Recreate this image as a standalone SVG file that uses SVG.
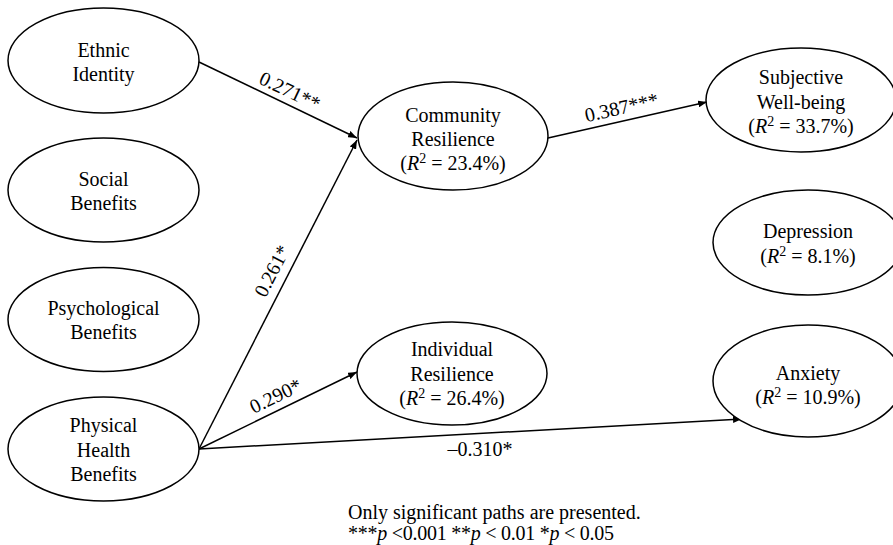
<svg xmlns="http://www.w3.org/2000/svg" width="893" height="545" viewBox="0 0 893 545">
<style>
  .node ellipse { fill: #fff; stroke: #000; stroke-width: 1.5; }
  .node text { font-family: "Liberation Serif", "Times New Roman", serif; font-size: 20px; fill: #000; text-anchor: middle; }
  .edge { stroke: #000; stroke-width: 1.5; fill: none; marker-end: url(#arrow); }
  .lbl { font-family: "Liberation Serif", "Times New Roman", serif; font-size: 20px; fill: #000; text-anchor: middle; }
  .note { font-family: "Liberation Serif", "Times New Roman", serif; font-size: 20px; fill: #000; }
  .it { font-style: italic; }
</style>
<defs>
  <marker id="arrow" viewBox="0 0 10 10" refX="10" refY="5" markerWidth="9" markerHeight="7" markerUnits="userSpaceOnUse" orient="auto" preserveAspectRatio="none">
    <path d="M0,0 L10,5 L0,10 z" fill="#000"/>
  </marker>
</defs>
<rect width="893" height="545" fill="#fff"/>

<g id="connectors">
  <line class="edge" x1="199" y1="62" x2="357" y2="138"/>
  <line class="edge" x1="199" y1="449" x2="357" y2="140"/>
  <line class="edge" x1="199" y1="449" x2="357" y2="372"/>
  <line class="edge" x1="199" y1="449" x2="742" y2="419"/>
  <line class="edge" x1="548" y1="138" x2="707" y2="102"/>
  <text class="lbl" transform="translate(287,97) rotate(25.5)">0.271**</text>
  <text class="lbl" transform="translate(278,274) rotate(-62.8)">0.261*</text>
  <text class="lbl" transform="translate(278.5,402) rotate(-26)">0.290*</text>
  <text class="lbl" transform="translate(623,114) rotate(-12.7)">0.387***</text>
  <text class="lbl" x="480" y="456">–0.310*</text>
</g>

<g id="ethnic-identity" class="node">
  <ellipse cx="103.5" cy="60.5" rx="95.5" ry="52.5"/>
  <text x="103.5" y="57">Ethnic</text>
  <text x="103.5" y="81">Identity</text>
</g>
<g id="social-benefits" class="node">
  <ellipse cx="103.5" cy="190" rx="95.5" ry="52"/>
  <text x="103.5" y="186">Social</text>
  <text x="103.5" y="210">Benefits</text>
</g>
<g id="psychological-benefits" class="node">
  <ellipse cx="103.5" cy="319.5" rx="95.5" ry="52"/>
  <text x="103.5" y="315">Psychological</text>
  <text x="103.5" y="339">Benefits</text>
</g>
<g id="physical-health-benefits" class="node">
  <ellipse cx="103.5" cy="449" rx="95.5" ry="52"/>
  <text x="103.5" y="432">Physical</text>
  <text x="103.5" y="456.5">Health</text>
  <text x="103.5" y="481">Benefits</text>
</g>
<g id="community-resilience" class="node">
  <ellipse cx="453" cy="136" rx="95" ry="54"/>
  <text x="453" y="122">Community</text>
  <text x="453" y="146">Resilience</text>
  <text x="453" y="170">(<tspan class="it">R</tspan><tspan font-size="14" dy="-7">2</tspan><tspan dy="7"> = 23.4%)</tspan></text>
</g>
<g id="individual-resilience" class="node">
  <ellipse cx="452" cy="373.5" rx="95" ry="51.5"/>
  <text x="452" y="356">Individual</text>
  <text x="452" y="380.5">Resilience</text>
  <text x="452" y="405">(<tspan class="it">R</tspan><tspan font-size="14" dy="-7">2</tspan><tspan dy="7"> = 26.4%)</tspan></text>
</g>
<g id="subjective-well-being" class="node">
  <ellipse cx="801" cy="100" rx="95" ry="52"/>
  <text x="801" y="84">Subjective</text>
  <text x="801" y="108.5">Well-being</text>
  <text x="801" y="133">(<tspan class="it">R</tspan><tspan font-size="14" dy="-7">2</tspan><tspan dy="7"> = 33.7%)</tspan></text>
</g>
<g id="depression" class="node">
  <ellipse cx="808" cy="242.5" rx="95" ry="52.5"/>
  <text x="808" y="238">Depression</text>
  <text x="808" y="263">(<tspan class="it">R</tspan><tspan font-size="14" dy="-7">2</tspan><tspan dy="7"> = 8.1%)</tspan></text>
</g>
<g id="anxiety" class="node">
  <ellipse cx="808" cy="381" rx="95" ry="56"/>
  <text x="808" y="380">Anxiety</text>
  <text x="808" y="404">(<tspan class="it">R</tspan><tspan font-size="14" dy="-7">2</tspan><tspan dy="7"> = 10.9%)</tspan></text>
</g>

<g id="footnote">
  <text class="note" x="348" y="519">Only significant paths are presented.</text>
  <text class="note" x="348" y="540" textLength="266" lengthAdjust="spacing">***<tspan class="it">p</tspan> &lt;0.001 **<tspan class="it">p</tspan> &lt; 0.01 *<tspan class="it">p</tspan> &lt; 0.05</text>
</g>
</svg>
